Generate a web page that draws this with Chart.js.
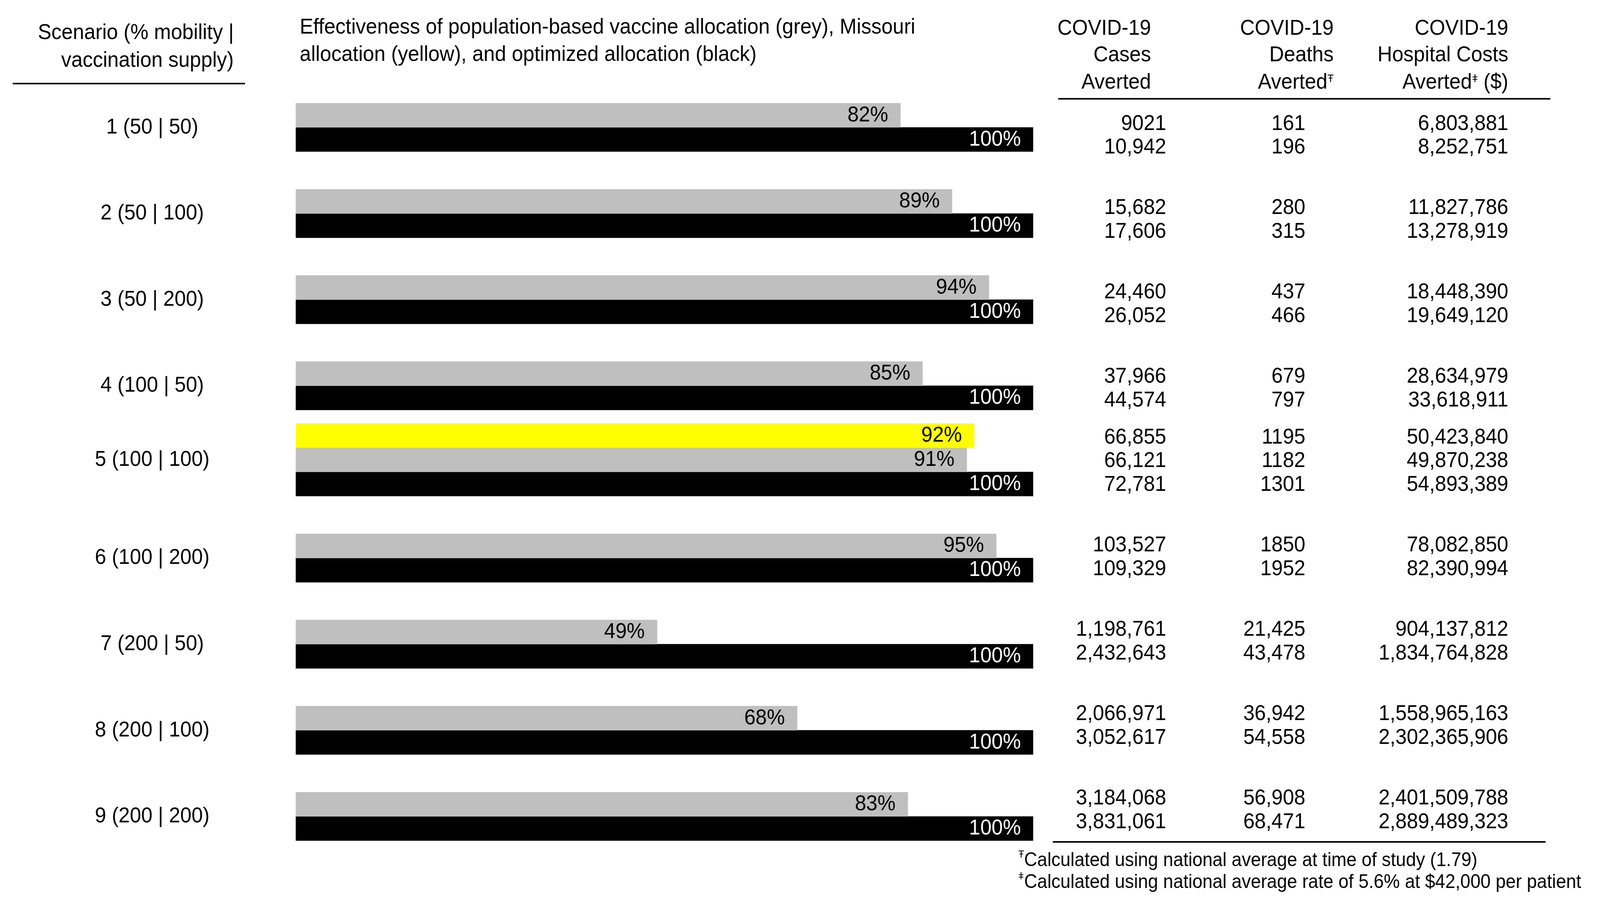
<!DOCTYPE html>
<html>
<head>
<meta charset="utf-8">
<script src="https://cdn.jsdelivr.net/npm/chart.js@4.4.1/dist/chart.umd.min.js"></script>
<style>
  html, body { margin: 0; background: #fff; overflow: hidden; }
  #wrap { position: absolute; left: 0; top: 0; width: 4415px; height: 2315px; transform-origin: 0 0; }
</style>
</head>
<body>
<div id="wrap"><canvas id="grafico" width="4415" height="2315"></canvas></div>
<script>
const FONT = "'Liberation Sans', Arial, sans-serif";

const scenarios = ["1 (50 | 50)", "2 (50 | 100)", "3 (50 | 200)", "4 (100 | 50)", "5 (100 | 100)",
                   "6 (100 | 200)", "7 (200 | 50)", "8 (200 | 100)", "9 (200 | 200)"];

// effectiveness (% of optimized)
const missouriPct   = [null, null, null, null, 92, null, null, null, null];
const populationPct = [82, 89, 94, 85, 91, 95, 49, 68, 83];
const optimizedPct  = [100, 100, 100, 100, 100, 100, 100, 100, 100];

// averted outcomes, one row per bar
const missouriCases   = [null, null, null, null, 66855, null, null, null, null];
const missouriDeaths  = [null, null, null, null, 1195, null, null, null, null];
const missouriCosts   = [null, null, null, null, 50423840, null, null, null, null];

const populationCases  = [9021, 15682, 24460, 37966, 66121, 103527, 1198761, 2066971, 3184068];
const populationDeaths = [161, 280, 437, 679, 1182, 1850, 21425, 36942, 56908];
const populationCosts  = [6803881, 11827786, 18448390, 28634979, 49870238, 78082850, 904137812, 1558965163, 2401509788];

const optimizedCases  = [10942, 17606, 26052, 44574, 72781, 109329, 2432643, 3052617, 3831061];
const optimizedDeaths = [196, 315, 466, 797, 1301, 1952, 43478, 54558, 68471];
const optimizedCosts  = [8252751, 13278919, 19649120, 33618911, 54893389, 82390994, 1834764828, 2302365906, 2889489323];

// table rows that go with datasets 0..2
const tableRows = [
  { cases: missouriCases, deaths: missouriDeaths, costs: missouriCosts, text: "#000" },
  { cases: populationCases, deaths: populationDeaths, costs: populationCosts, text: "#000" },
  { cases: optimizedCases, deaths: optimizedDeaths, costs: optimizedCosts, text: "#fff" }
];

// fit the 4415x2315 drawing into whatever window we get
const wrap = document.getElementById("wrap");
wrap.style.transform = "scale(" + (window.innerWidth / 4415) + "," + (window.innerHeight / 2315) + ")";

function fmt(v) {
  return v < 10000 ? String(v) : v.toLocaleString("en-US");
}

function line(ctx, x1, y1, x2, y2) {
  ctx.beginPath();
  ctx.moveTo(x1, y1);
  ctx.lineTo(x2, y2);
  ctx.stroke();
}

// right aligned "Averted" + superscript mark + optional tail
function supText(ctx, main, mark, tail, xRight, y) {
  ctx.font = "56px " + FONT;
  const tailW = tail ? ctx.measureText(tail).width : 0;
  ctx.font = "28px " + FONT;
  const markW = ctx.measureText(mark).width;
  ctx.textAlign = "left";
  ctx.textBaseline = "alphabetic";
  ctx.fillText(mark, xRight - tailW - markW, y - 2);
  ctx.font = "56px " + FONT;
  ctx.textAlign = "right";
  ctx.textBaseline = "middle";
  ctx.fillText(main, xRight - tailW - markW, y);
  if (tail) {
    ctx.textAlign = "left";
    ctx.fillText(tail, xRight - tailW, y);
  }
}

const tablePlugin = {
  id: "tableText",
  afterDraw(chart) {
    const ctx = chart.ctx;
    ctx.save();
    ctx.fillStyle = "#000";
    ctx.strokeStyle = "#000";
    ctx.lineWidth = 4;
    ctx.textBaseline = "middle";
    ctx.font = "56px " + FONT;

    // headers
    ctx.textAlign = "right";
    ctx.fillText("Scenario (% mobility |", 645, 85);
    ctx.fillText("vaccination supply)", 645, 156);
    line(ctx, 35, 214, 676, 214);

    ctx.textAlign = "left";
    ctx.fillText("Effectiveness of population-based vaccine allocation (grey), Missouri", 827, 71);
    ctx.fillText("allocation (yellow), and optimized allocation (black)", 827, 141);

    ctx.textAlign = "right";
    ctx.fillText("COVID-19", 3176, 74);
    ctx.fillText("Cases", 3176, 142);
    ctx.fillText("Averted", 3176, 212);
    ctx.fillText("COVID-19", 3680, 74);
    ctx.fillText("Deaths", 3680, 142);
    supText(ctx, "Averted", "\u0166", "", 3680, 212);
    ctx.textAlign = "right";
    ctx.fillText("COVID-19", 4162, 74);
    ctx.fillText("Hospital Costs", 4162, 142);
    supText(ctx, "Averted", "\u01C2", " ($)", 4162, 212);
    line(ctx, 2920, 253, 4278, 253);

    // bar labels and table rows
    tableRows.forEach((row, i) => {
      const meta = chart.getDatasetMeta(i);
      const vals = chart.data.datasets[i].data;
      meta.data.forEach((bar, j) => {
        if (vals[j] == null) return;
        ctx.font = "56px " + FONT;
        ctx.textBaseline = "middle";
        ctx.textAlign = "right";
        ctx.fillStyle = row.text;
        ctx.fillText(vals[j] + "%", bar.x - 34, bar.y);
        ctx.fillStyle = "#000";
        const rowY = 0.979 * bar.y + 28;
        ctx.fillText(fmt(row.cases[j]), 3218, rowY);
        ctx.fillText(fmt(row.deaths[j]), 3602, rowY);
        ctx.fillText(fmt(row.costs[j]), 4162, rowY);
      });
    });

    // scenario labels, centred on their group of bars
    ctx.textAlign = "center";
    ctx.fillStyle = "#000";
    scenarios.forEach((s, j) => {
      let top = Infinity, bottom = -Infinity;
      tableRows.forEach((row, i) => {
        if (chart.data.datasets[i].data[j] == null) return;
        const bar = chart.getDatasetMeta(i).data[j];
        top = Math.min(top, bar.y - bar.height / 2);
        bottom = Math.max(bottom, bar.y + bar.height / 2);
      });
      ctx.fillText(s, 420, (top + bottom) / 2);
    });

    // footnotes
    line(ctx, 2905, 2156, 4265, 2156);
    ctx.textAlign = "left";
    ctx.textBaseline = "alphabetic";
    ctx.font = "26px " + FONT;
    ctx.fillText("\u0166", 2810, 2196);
    ctx.fillText("\u01C2", 2810, 2252);
    ctx.font = "50px " + FONT;
    ctx.textBaseline = "middle";
    ctx.fillText("Calculated using national average at time of study (1.79)", 2826, 2204);
    ctx.fillText("Calculated using national average rate of 5.6% at $42,000 per patient", 2826, 2260);
    ctx.restore();
  }
};

new Chart(document.getElementById("grafico"), {
  type: "bar",
  data: {
    labels: scenarios,
    datasets: [
      { label: "Missouri allocation", data: missouriPct, backgroundColor: "#ffff00" },
      { label: "Population-based allocation", data: populationPct, backgroundColor: "#bfbfbf" },
      { label: "Optimized allocation", data: optimizedPct, backgroundColor: "#000000" },
      // empty slot so grey and black sit either side of the row centre
      { label: "", data: scenarios.map(() => null) }
    ]
  },
  options: {
    indexAxis: "y",
    responsive: false,
    devicePixelRatio: 1,
    animation: false,
    barThickness: 62,
    layout: { padding: { left: 816, right: 1564, top: 216, bottom: 114 } },
    scales: {
      x: { display: false, min: 0, max: 100 },
      y: { display: false }
    },
    plugins: {
      legend: { display: false },
      tooltip: { enabled: false }
    }
  },
  plugins: [tablePlugin]
});
</script>
</body>
</html>
